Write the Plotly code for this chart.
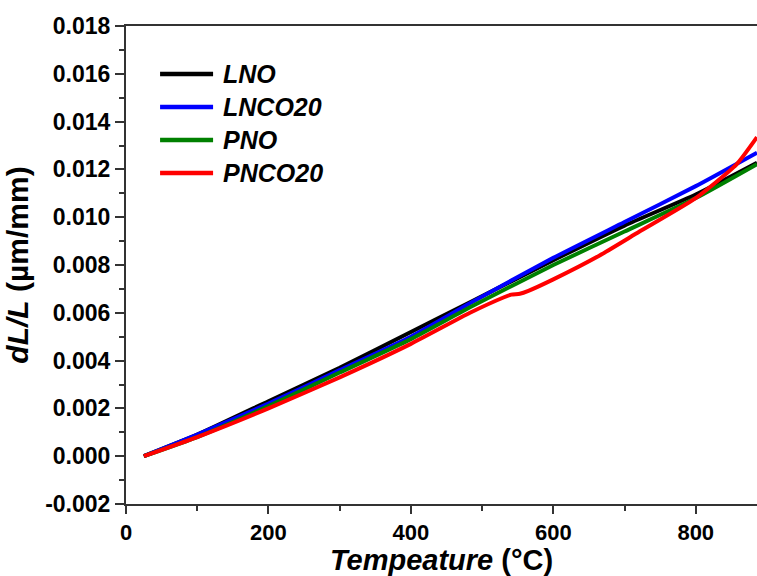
import plotly.graph_objects as go

# Temperature (°C)
T_lno = [25, 100, 200, 300, 400, 483, 600, 700, 800, 886]
lno = [0.0, 0.0009, 0.0023, 0.0037, 0.0052, 0.00644, 0.0082, 0.00965, 0.01095, 0.01228]

T_lnco = [25, 100, 200, 300, 400, 483, 600, 700, 800, 886]
lnco20 = [0.0, 0.0009, 0.0022, 0.0036, 0.0050, 0.0064, 0.0083, 0.0098, 0.0113, 0.0127]

T_pno = [25, 100, 200, 300, 400, 483, 600, 700, 800, 886]
pno = [0.0, 0.0008, 0.0021, 0.0035, 0.0049, 0.00623, 0.0080, 0.0094, 0.0108, 0.01222]

T_pnco = [25, 100, 200, 300, 400, 483, 530, 541, 553, 565, 600, 665, 721, 800, 857, 886]
pnco20 = [0.0, 0.0008, 0.0020, 0.0033, 0.0047, 0.0060, 0.00664, 0.00676, 0.00680, 0.00692,
          0.0074, 0.0084, 0.0094, 0.0108, 0.0122, 0.01335]

names = ["LNO", "LNCO20", "PNO", "PNCO20"]
colors = ["#000000", "#0000FF", "#008000", "#FF0000"]
xs = [T_lno, T_lnco, T_pno, T_pnco]
ys = [lno, lnco20, pno, pnco20]

x_ticks = [0, 200, 400, 600, 800]
y_ticks = [-0.002, 0.000, 0.002, 0.004, 0.006, 0.008, 0.010, 0.012, 0.014, 0.016, 0.018]
y_ticktext = [f"{v:.3f}" for v in y_ticks]

FONT = "Liberation Sans, Arial, sans-serif"

fig = go.Figure()
for x, y, n, c in zip(xs, ys, names, colors):
    fig.add_trace(go.Scatter(x=x, y=y, mode="lines", name=n,
                             line=dict(color=c, width=4, shape="spline", smoothing=0.5),
                             showlegend=False))

# manual legend (paper coordinates)
leg_y = [0.8996, 0.8305, 0.7615, 0.6925]
shapes = []
annotations = []
for n, c, yy in zip(names, colors, leg_y):
    shapes.append(dict(type="line", xref="paper", yref="paper",
                       x0=0.054, x1=0.138, y0=yy, y1=yy,
                       line=dict(color=c, width=4.5)))
    annotations.append(dict(xref="paper", yref="paper", x=0.151, y=yy,
                            xanchor="left", yanchor="middle", showarrow=False,
                            text=f"<b><i>{n}</i></b>",
                            font=dict(family=FONT, size=25, color="#000")))

fig.update_layout(
    width=757, height=576,
    margin=dict(l=126, r=0, t=26, b=72),
    paper_bgcolor="white", plot_bgcolor="white",
    font=dict(family=FONT, color="#000"),
    shapes=shapes, annotations=annotations,
    showlegend=False,
)

fig.update_xaxes(
    range=[0, 886], tickvals=x_ticks, ticktext=[f"<b>{v}</b>" for v in x_ticks],
    tickfont=dict(size=22, family=FONT),
    ticks="outside", ticklen=8, tickwidth=2, tickcolor="#333",
    minor=dict(ticks="outside", ticklen=5, tickwidth=2, tickcolor="#333", dtick=100, tick0=0),
    showline=True, linecolor="#333", linewidth=2, mirror=True,
    showgrid=False, zeroline=False,
    title=dict(text="<b><i>Tempeature</i> (°C)</b>", font=dict(size=29, family=FONT), standoff=2),
)
fig.update_yaxes(
    range=[-0.002, 0.018], tickvals=y_ticks, ticktext=[f"<b>{t}</b>" for t in y_ticktext],
    tickfont=dict(size=23, family=FONT),
    ticks="outside", ticklen=9, tickwidth=2, tickcolor="#333",
    minor=dict(ticks="outside", ticklen=5, tickwidth=2, tickcolor="#333", dtick=0.001, tick0=0),
    showline=True, linecolor="#333", linewidth=2,
    showgrid=False, zeroline=False,
    title=dict(text="<b><i>dL/L</i> (µm/mm)</b>", font=dict(size=30, family=FONT), standoff=8),
)

fig.write_html("out.html")
